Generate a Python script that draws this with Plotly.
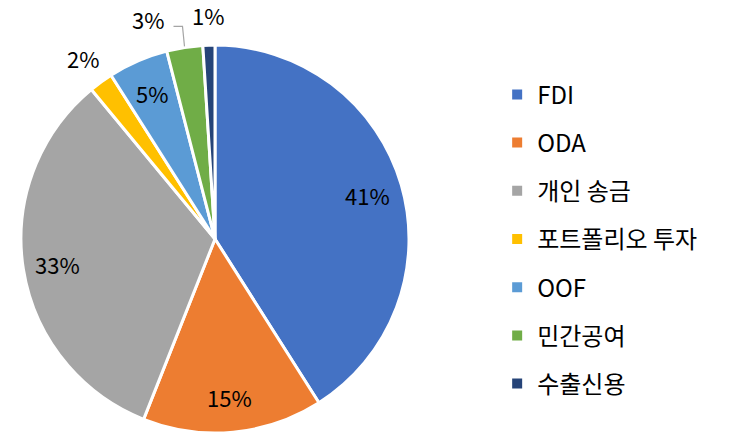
import math
import plotly.graph_objects as go

# 자금 유형별 비중 (%)
labels = ["FDI", "ODA", "개인 송금", "포트폴리오 투자", "OOF", "민간공여", "수출신용"]
values = [41, 15, 33, 2, 5, 3, 1]
colors = ["#4472C4", "#ED7D31", "#A5A5A5", "#FFC000", "#5B9BD5", "#70AD47", "#264478"]
# slices too thin for an inside label get it outside the pie
outside = [False, False, False, True, False, True, True]

FONT = "Noto Sans CJK KR"
W, H = 751, 433
# pie box in pixels (left, top, size)
PIE_L, PIE_T, PIE_D = 21, 45, 388

fig = go.Figure()

fig.add_trace(go.Pie(
    labels=labels,
    values=values,
    sort=False,
    direction="clockwise",
    rotation=0,
    automargin=False,
    marker=dict(colors=colors, line=dict(color="white", width=3)),
    textinfo="none",
    showlegend=False,
    hoverinfo="label+percent",
    domain=dict(x=[PIE_L / W, (PIE_L + PIE_D) / W],
                y=[1 - (PIE_T + PIE_D) / H, 1 - PIE_T / H]),
))

# percentage labels, placed from the slice mid-angles
cx, cy, R = PIE_L + PIE_D / 2, PIE_T + PIE_D / 2, PIE_D / 2
total = sum(values)
cum = 0
label_font = dict(family=FONT, size=22, color="black")
for val, out in zip(values, outside):
    mid = 2 * math.pi * (cum + val / 2) / total
    cum += val
    s, c = math.sin(mid), math.cos(mid)
    if not out:
        rl = 0.82 * R
        lx, ly = cx + rl * s, cy - rl * c
    elif val == 3:
        # pushed left, with a bent leader line back to the slice
        ex, ey = cx + (R + 1) * s, cy - (R + 1) * c
        lx, ly = ex - 36, ey - 27
        fig.add_shape(
            type="path", xref="paper", yref="paper",
            path=(f"M {ex / W},{1 - ey / H} L {(ex - 2) / W},{1 - (ey - 20) / H} "
                  f"L {(ex - 11) / W},{1 - (ey - 20) / H}"),
            line=dict(color="#A5A5A5", width=1.2),
        )
    else:
        rl = R + 30
        lx, ly = cx + rl * s, cy - rl * c
    fig.add_annotation(
        x=lx / W, y=1 - ly / H, xref="paper", yref="paper",
        xanchor="center", yanchor="middle",
        text=f"{val}%", showarrow=False, font=label_font,
    )

# legend built from dummy traces so the item spacing can be widened
for name, col in zip(labels, colors):
    fig.add_trace(go.Scatter(
        x=[None], y=[None], mode="markers", name=name, legendgroup=name,
        marker=dict(symbol="square", size=10, color=col),
    ))

fig.update_layout(
    width=W, height=H,
    margin=dict(l=0, r=0, t=0, b=0, autoexpand=False),
    paper_bgcolor="white", plot_bgcolor="white",
    font=dict(family=FONT, color="black"),
    xaxis=dict(visible=False), yaxis=dict(visible=False),
    legend=dict(
        x=0.662, y=0.833, xanchor="left", yanchor="top",
        font=dict(family=FONT, size=24, color="black"),
        tracegroupgap=14, itemwidth=30,
    ),
)

# drop the page's default body margin so the figure sits at the window corner
fig.write_html("out.html", config={"displayModeBar": False},
               post_script="document.body.style.margin = '0';")
